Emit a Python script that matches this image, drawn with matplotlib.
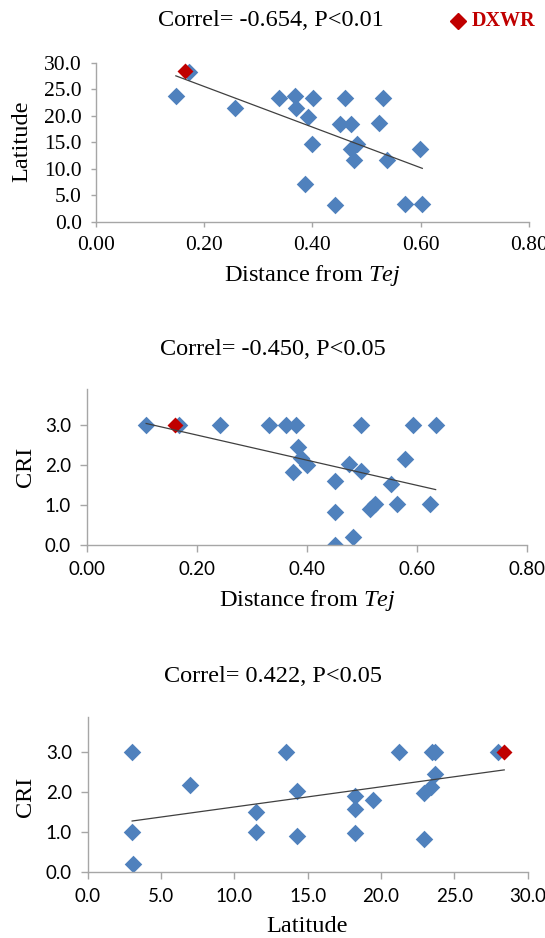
import numpy as np
import matplotlib
matplotlib.use('Agg')
import matplotlib.pyplot as plt

# --- data ---
# panel 1: distance from Tej vs latitude
dist_lat_x = [0.148, 0.173, 0.257, 0.338, 0.368, 0.370, 0.392, 0.402, 0.399, 0.386, 0.442, 0.460,
              0.451, 0.471, 0.471, 0.482, 0.476, 0.530, 0.523, 0.537, 0.599, 0.571, 0.603]
dist_lat_y = [23.8, 28.3, 21.4, 23.4, 23.8, 21.4, 19.7, 23.3, 14.6, 7.2, 3.1, 23.3,
              18.4, 18.4, 13.8, 14.7, 11.6, 23.4, 18.6, 11.6, 13.8, 3.3, 3.3]
dxwr_dist_lat = (0.165, 28.4)

# panel 2: distance from Tej vs CRI
dist_cri_x = [0.108, 0.167, 0.242, 0.332, 0.363, 0.380, 0.384, 0.389, 0.401, 0.374, 0.499, 0.592,
              0.634, 0.579, 0.476, 0.499, 0.452, 0.552, 0.563, 0.624, 0.515, 0.524, 0.451, 0.483, 0.451]
dist_cri_y = [3.0, 3.0, 3.0, 3.0, 3.0, 3.0, 2.46, 2.17, 2.0, 1.82, 3.0, 3.0,
              3.0, 2.14, 2.03, 1.86, 1.6, 1.52, 1.02, 1.02, 0.91, 1.02, 0.83, 0.21, 0.0]
dxwr_dist_cri = (0.160, 3.0)

# panel 3: latitude vs CRI
lat_cri_x = [3.03, 3.03, 3.08, 6.97, 11.45, 11.45, 13.5, 14.3, 14.3, 18.25, 18.2, 18.25,
             19.45, 21.2, 22.9, 23.4, 22.9, 23.5, 23.7, 23.65, 28.0]
lat_cri_y = [3.0, 1.0, 0.21, 2.17, 1.51, 1.01, 3.0, 2.02, 0.91, 1.89, 1.58, 0.98,
             1.81, 3.0, 1.98, 2.12, 0.83, 3.0, 3.0, 2.45, 3.0]
dxwr_lat_cri = (28.4, 3.0)

titles = ['Correl= -0.654, P<0.01', 'Correl= -0.450, P<0.05', 'Correl= 0.422, P<0.05']

plt.rcParams['mathtext.fontset'] = 'custom'
plt.rcParams['mathtext.rm'] = 'Liberation Serif'
plt.rcParams['mathtext.it'] = 'Liberation Serif:italic'

W, H = 545, 938
BLUE = '#4F81BD'
RED = '#C00000'
GRAY = '#A6A6A6'
SERIF = 'Liberation Serif'
SANS = 'Lato'

fig = plt.figure(figsize=(W / 100, H / 100), dpi=100)


def box(l, r, t, b):
    return [l / W, 1 - b / H, (r - l) / W, (b - t) / H]


def txt(x, y, s, **kw):
    fig.text(x / W, 1 - y / H, s, ha='center', va='center', **kw)


def panel(rect, xs, ys, red, xlim, ylim, xticks, yticks, xfmt, yfmt, tickfont, ticklen):
    ax = fig.add_axes(box(*rect))
    ax.scatter(xs, ys, marker='D', s=80, color=BLUE, linewidths=0, zorder=2)
    ax.scatter([red[0]], [red[1]], marker='D', s=66, color=RED, linewidths=0, zorder=3)
    allx = np.array(list(xs) + [red[0]])
    ally = np.array(list(ys) + [red[1]])
    k, b = np.polyfit(allx, ally, 1)
    lx = np.array([allx.min(), allx.max()])
    ax.plot(lx, k * lx + b, color='#404040', lw=0.9, zorder=4)
    ax.set_xlim(*xlim)
    ax.set_ylim(*ylim)
    ax.set_xticks(xticks)
    ax.set_yticks(yticks)
    ax.set_xticklabels([xfmt.format(v) for v in xticks], fontfamily=tickfont[0], fontsize=tickfont[1])
    ax.set_yticklabels([yfmt.format(v) for v in yticks], fontfamily=tickfont[0], fontsize=tickfont[1])
    for s in ['top', 'right']:
        ax.spines[s].set_visible(False)
    for s in ['left', 'bottom']:
        ax.spines[s].set_color(GRAY)
        ax.spines[s].set_linewidth(1.0)
    ax.tick_params(direction='out', length=ticklen, width=1.0, color=GRAY, pad=6.5, labelcolor='black')
    for lab in ax.get_xticklabels() + ax.get_yticklabels():
        lab.set_clip_on(False)
    return ax


# panel 1
panel((95.7, 529, 62.7, 221.7), dist_lat_x, dist_lat_y, dxwr_dist_lat,
      (0, 0.8), (0, 30), [0, 0.2, 0.4, 0.6, 0.8], [0, 5, 10, 15, 20, 25, 30],
      '{:.2f}', '{:.1f}', (SERIF, 15.5), 3.6)
txt(271, 21, titles[0], fontfamily=SERIF, fontsize=17.5)
txt(21.6, 141.7, 'Latitude', fontfamily=SERIF, fontsize=17.5, rotation=90)
txt(312, 275, r'Distance from $\mathit{Tej}$', fontfamily=SERIF, fontsize=17.5)
# legend entry for DXWR
fig.text(471.5 / W, 1 - 21 / H, 'DXWR', ha='left', va='center', fontfamily=SERIF,
         fontsize=14.5, fontweight='bold', color=RED)
fig.lines.append(matplotlib.lines.Line2D([457.5 / W], [1 - 21 / H], marker='D', markersize=8,
                                         color=RED, linestyle='none', transform=fig.transFigure))

# panel 2
panel((86.7, 527, 389.3, 545), dist_cri_x, dist_cri_y, dxwr_dist_cri,
      (0, 0.8), (0, 3.89), [0, 0.2, 0.4, 0.6, 0.8], [0, 1, 2, 3],
      '{:.2f}', '{:.1f}', (SANS, 13.5), 4.8)
txt(272.5, 349.3, titles[1], fontfamily=SERIF, fontsize=17.5)
txt(26, 466.7, 'CRI', fontfamily=SERIF, fontsize=17.5, rotation=90)
txt(307, 600, r'Distance from $\mathit{Tej}$', fontfamily=SERIF, fontsize=17.5)

# panel 3
panel((87.7, 527.7, 716.7, 872.3), lat_cri_x, lat_cri_y, dxwr_lat_cri,
      (0, 30), (0, 3.875), [0, 5, 10, 15, 20, 25, 30], [0, 1, 2, 3],
      '{:.1f}', '{:.1f}', (SANS, 13.5), 4.8)
txt(272.5, 676.7, titles[2], fontfamily=SERIF, fontsize=17.5)
txt(25, 796.7, 'CRI', fontfamily=SERIF, fontsize=17.5, rotation=90)
txt(306.7, 926.7, 'Latitude', fontfamily=SERIF, fontsize=17.5)

fig.savefig('out.png', dpi=100)
